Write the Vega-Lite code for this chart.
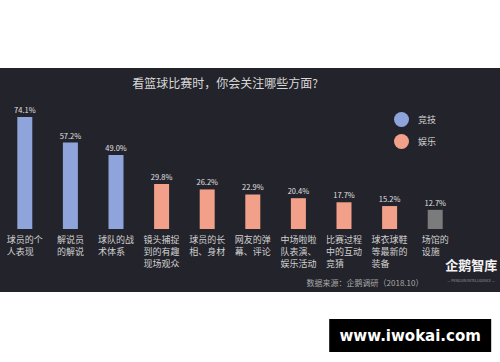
{
  "$schema": "https://vega.github.io/schema/vega-lite/v6.json",
  "width": 500,
  "height": 224,
  "autosize": "none",
  "padding": {"top": 68, "bottom": 70, "left": 0, "right": 0},
  "background": "#ffffff",
  "config": {
    "view": {"stroke": null, "fill": "#23232b"},
    "font": "Noto Sans CJK SC"
  },
  "data": {
    "values": [
      {"name": "球员的个\n人表现", "value": 74.1, "group": "竞技"},
      {"name": "解说员\n的解说", "value": 57.2, "group": "竞技"},
      {"name": "球队的战\n术体系", "value": 49.0, "group": "竞技"},
      {"name": "镜头捕捉\n到的有趣\n现场观众", "value": 29.8, "group": "娱乐"},
      {"name": "球员的长\n相、身材", "value": 26.2, "group": "娱乐"},
      {"name": "网友的弹\n幕、评论", "value": 22.9, "group": "娱乐"},
      {"name": "中场啦啦\n队表演、\n娱乐活动", "value": 20.4, "group": "娱乐"},
      {"name": "比赛过程\n中的互动\n竞猜", "value": 17.7, "group": "娱乐"},
      {"name": "球衣球鞋\n等最新的\n装备", "value": 15.2, "group": "娱乐"},
      {"name": "场馆的\n设施", "value": 12.7, "group": "其他"}
    ]
  },
  "encoding": {
    "x": {"field": "name", "type": "nominal", "sort": null, "axis": null,
          "scale": {"range": [2, 458], "paddingInner": 0, "paddingOuter": 0}}
  },
  "layer": [
    {
      "mark": {"type": "bar", "width": 15},
      "encoding": {
        "y": {"field": "value", "type": "quantitative", "axis": null,
              "scale": {"domain": [-41.7, 106.6], "nice": false, "zero": false}},
        "color": {"field": "group", "type": "nominal",
                  "scale": {"domain": ["竞技", "娱乐", "其他"], "range": ["#8ea4db", "#f3a08b", "#7b7b7b"]},
                  "legend": {"values": ["竞技", "娱乐"], "title": null, "orient": "none",
                             "legendX": 394, "legendY": 44, "symbolType": "circle", "symbolSize": 225,
                             "symbolOpacity": 1, "symbolStrokeWidth": 0, "rowPadding": 7,
                             "labelOffset": 9, "labelFontSize": 9, "labelColor": "#cfcfcf",
                             "labelFont": "Noto Sans CJK SC", "padding": 0}}
      }
    },
    {
      "transform": [{"calculate": "format(datum.value, '.1f') + '%'", "as": "label"}],
      "mark": {"type": "text", "baseline": "bottom", "dy": -2, "fontSize": 7.5, "color": "#e0e0e0"},
      "encoding": {
        "y": {"field": "value", "type": "quantitative"},
        "text": {"field": "label"}
      }
    },
    {
      "transform": [{"filter": "length(split(datum.name, '\\n')[0]) == 4"}],
      "mark": {"type": "text", "align": "left", "baseline": "top", "dx": -18, "fontSize": 9,
               "lineBreak": "\n", "lineHeight": 12, "color": "#d0d0d0"},
      "encoding": {"y": {"datum": -4.4}, "text": {"field": "name"}}
    },
    {
      "transform": [{"filter": "length(split(datum.name, '\\n')[0]) == 3"}],
      "mark": {"type": "text", "align": "left", "baseline": "top", "dx": -13.5, "fontSize": 9,
               "lineBreak": "\n", "lineHeight": 12, "color": "#d0d0d0"},
      "encoding": {"y": {"datum": -4.4}, "text": {"field": "name"}}
    },
    {
      "data": {"values": [{"t": "看篮球比赛时，你会关注哪些方面?"}]},
      "mark": {"type": "text", "baseline": "middle", "dx": 18, "fontSize": 12, "color": "#d8d8d8"},
      "encoding": {"x": {"datum": "球员的长\n相、身材"}, "y": {"datum": 96.0}, "text": {"field": "t"}}
    },
    {
      "data": {"values": [{"t": "数据来源：企鹅调研（2018.10）"}]},
      "mark": {"type": "text", "baseline": "middle", "dx": 21, "fontSize": 8, "color": "#a8a8a8"},
      "encoding": {"x": {"datum": "比赛过程\n中的互动\n竞猜"}, "y": {"datum": -36.4}, "text": {"field": "t"}}
    },
    {
      "data": {"values": [{"t": "企鹅智库"}]},
      "mark": {"type": "text", "baseline": "middle", "dx": 36, "fontSize": 13, "fontWeight": "bold", "color": "#f2f2f2"},
      "encoding": {"x": {"datum": "场馆的\n设施"}, "y": {"datum": -24.5}, "text": {"field": "t"}}
    },
    {
      "data": {"values": [{"t": "— PENGUIN INTELLIGENCE —"}]},
      "mark": {"type": "text", "baseline": "middle", "dx": 36, "fontSize": 3.5, "color": "#9a9a9a"},
      "encoding": {"x": {"datum": "场馆的\n设施"}, "y": {"datum": -34.4}, "text": {"field": "t"}}
    },
    {
      "data": {"values": [{"t": "www.iwokai.com"}]},
      "mark": {"type": "bar", "width": 162, "xOffset": -25, "color": "#000000"},
      "encoding": {"x": {"datum": "场馆的\n设施"}, "y": {"datum": -59.6}, "y2": {"datum": -81.4}}
    },
    {
      "data": {"values": [{"t": "www.iwokai.com"}]},
      "mark": {"type": "text", "baseline": "middle", "dx": -25, "fontSize": 15, "fontWeight": "bold",
               "font": "DejaVu Sans", "color": "#ffffff"},
      "encoding": {"x": {"datum": "场馆的\n设施"}, "y": {"datum": -70.8}, "text": {"field": "t"}}
    }
  ]
}
